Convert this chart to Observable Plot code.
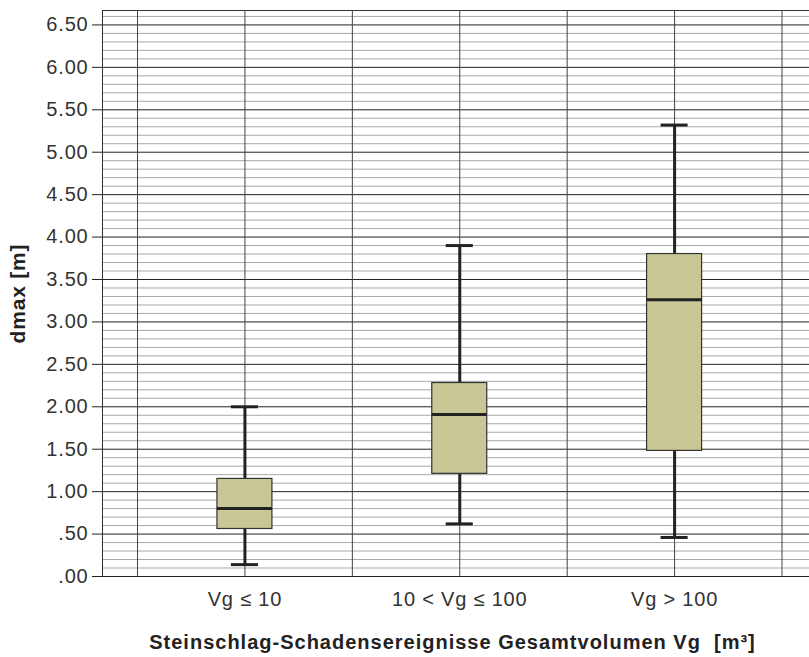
<!DOCTYPE html>
<html>
<head>
<meta charset="utf-8">
<script src="https://cdn.jsdelivr.net/npm/d3@7"></script>
<script src="https://cdn.jsdelivr.net/npm/@observablehq/plot@0.6"></script>
<style>
  html, body { margin: 0; padding: 0; background: #fff; }
  #chart { width: 809px; }
  #xtitle {
    width: 809px; box-sizing: border-box; padding-left: 96px;
    text-align: center; font-family: "Liberation Sans", Arial, sans-serif;
    font-weight: bold; font-size: 20px; letter-spacing: 1px; color: #222;
    margin-top: 6px; line-height: 22px; white-space: pre;
  }
</style>
</head>
<body>
<div id="chart"></div>
<div id="xtitle">Steinschlag-Schadensereignisse Gesamtvolumen Vg  [m³]</div>
<script>
// ---- data ----
const categories   = ["Vg ≤ 10", "10 < Vg ≤ 100", "Vg > 100"];
const whiskerLow   = [0.14, 0.62, 0.46];
const quartile1    = [0.56, 1.21, 1.48];
const medians      = [0.80, 1.91, 3.26];
const quartile3    = [1.15, 2.28, 3.80];
const whiskerHigh  = [2.00, 3.90, 5.32];
const yTickValues  = [0, 0.5, 1, 1.5, 2, 2.5, 3, 3.5, 4, 4.5, 5, 5.5, 6, 6.5];
const yLabel = "dmax [m]";

// ---- derived ----
const rows = categories.map((c, i) => ({
  cat: c, pos: i + 1,
  lo: whiskerLow[i], q1: quartile1[i], med: medians[i], q3: quartile3[i], hi: whiskerHigh[i]
}));
const yMax = 6.67;
const minorTicks = d3.range(1, 67).map(k => k / 10).filter(v => Math.abs(v * 2 - Math.round(v * 2)) > 1e-6);
const xGrid = d3.range(0.5, 3.51, 0.5);
const xDomain = [0.337, 3.628];
const boxHalf = 0.128, capHalf = 0.063;
const fmt = d => d3.format(".2f")(d).replace(/^0\./, ".");

const chart = Plot.plot({
  width: 809, height: 625,
  marginLeft: 102, marginRight: 0, marginTop: 10, marginBottom: 49,
  style: { fontFamily: "'Liberation Sans', Arial, sans-serif", fontSize: "20px", letterSpacing: "0.8px", color: "#333", background: "#fff" },
  x: { type: "linear", domain: xDomain },
  y: { domain: [0, yMax] },
  marks: [
    Plot.ruleY(minorTicks, { stroke: "#a8a8a8", strokeWidth: 1 }),
    Plot.ruleY(yTickValues, { stroke: "#222", strokeWidth: 1 }),
    Plot.ruleY([yMax], { stroke: "#333", strokeWidth: 1 }),
    Plot.ruleX(xGrid, { stroke: "#444", strokeWidth: 1 }),
    Plot.ruleX([xDomain[0]], { stroke: "#333", strokeWidth: 1 }),
    Plot.ruleX(rows, { x: "pos", y1: "lo", y2: "hi", stroke: "#222", strokeWidth: 3 }),
    Plot.ruleY(rows, { y: "lo", x1: d => d.pos - capHalf, x2: d => d.pos + capHalf, stroke: "#222", strokeWidth: 3 }),
    Plot.ruleY(rows, { y: "hi", x1: d => d.pos - capHalf, x2: d => d.pos + capHalf, stroke: "#222", strokeWidth: 3 }),
    Plot.rect(rows, { x1: d => d.pos - boxHalf, x2: d => d.pos + boxHalf, y1: "q1", y2: "q3", fill: "#c8c795", stroke: "#333", strokeWidth: 1.2 }),
    Plot.ruleY(rows, { y: "med", x1: d => d.pos - boxHalf, x2: d => d.pos + boxHalf, stroke: "#222", strokeWidth: 3 }),
    Plot.axisY({ ticks: yTickValues, tickFormat: fmt, tickSize: 10, tickPadding: 4, label: null, stroke: "#222" }),
    Plot.axisX({ ticks: rows.map(d => d.pos), tickFormat: d => categories[d - 1], tickSize: 0, tickPadding: 15, label: null }),
    Plot.text([yLabel], { text: d => d, frameAnchor: "left", dx: -84, rotate: -90, textAnchor: "middle", fontWeight: "bold", fontSize: 21, fill: "#222" })
  ]
});
document.getElementById("chart").appendChild(chart);
</script>
</body>
</html>
